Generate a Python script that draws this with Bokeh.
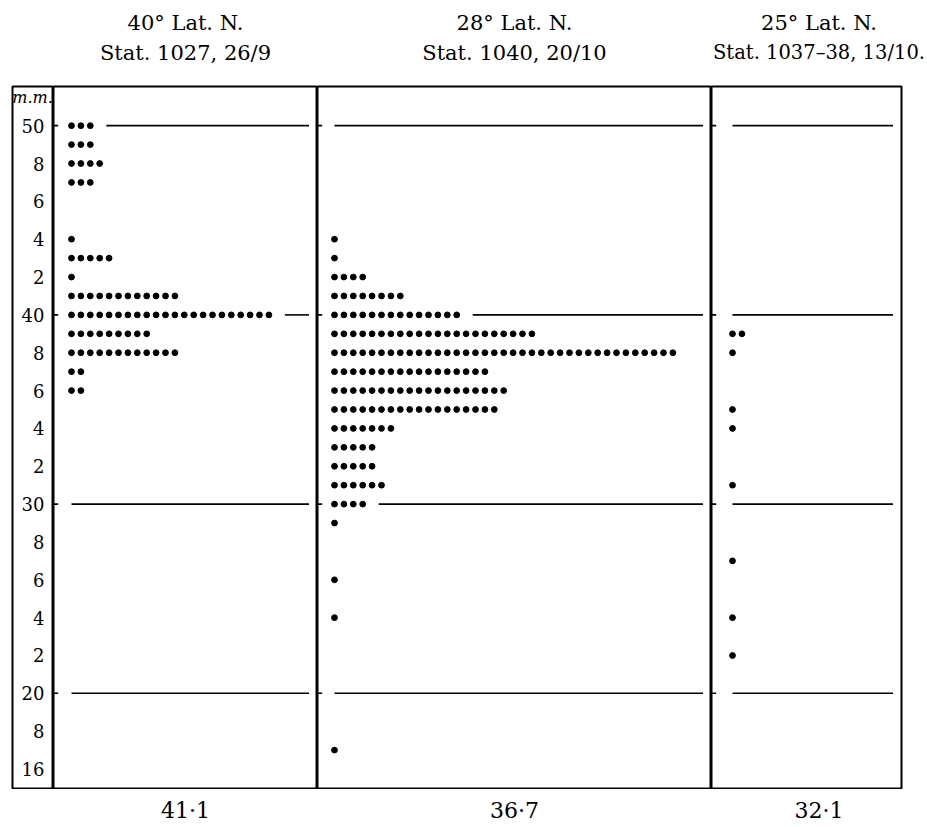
from bokeh.plotting import figure
from bokeh.layouts import row, column
from bokeh.models import Range1d, ColumnDataSource
from bokeh.core.properties import value
from bokeh.embed import file_html
from bokeh.resources import INLINE

# ---------------- data ----------------
sizes_40N = [50, 49, 48, 47, 44, 43, 42, 41, 40, 39, 38, 37, 36]
counts_40N = [3, 3, 4, 3, 1, 5, 1, 12, 22, 9, 12, 2, 2]

sizes_28N = [44, 43, 42, 41, 40, 39, 38, 37, 36, 35, 34, 33, 32, 31, 30, 29, 26, 24, 17]
counts_28N = [1, 1, 4, 8, 14, 22, 37, 17, 19, 18, 7, 5, 5, 6, 4, 1, 1, 1, 1]

sizes_25N = [39, 38, 35, 34, 31, 27, 24, 22]
counts_25N = [2, 1, 1, 1, 1, 1, 1, 1]

lat_titles = ["40° Lat. N.", "28° Lat. N.", "25° Lat. N."]
stat_titles = ["Stat. 1027, 26/9", "Stat. 1040, 20/10", "Stat. 1037–38, 13/10."]
mean_labels = ["41·1", "36·7", "32·1"]

tick_values = [16, 18, 20, 22, 24, 26, 28, 30, 32, 34, 36, 38, 40, 42, 44, 46, 48, 50]
tick_labels = ["16", "8", "20", "2", "4", "6", "8", "30", "2", "4", "6", "8", "40", "2", "4", "6", "8", "50"]
unit_label = "m.m."
ruled_values = [50, 40, 30, 20]

# ---------------- layout constants ----------------
FONT = "DejaVu Serif"
Y_RANGE = Range1d(14.97, 52.07)
FRAME_H = 702
DOT_PX = 9.4
LEFT_PAD = 12
LAB_W = 41
PANEL_W = [264, 394, 190]
FIRST_DOT = [18, 17, 21]
RIGHT_PAD = 25
HEADER_H = 85
FOOTER_H = 33
TOTAL_W = LEFT_PAD + LAB_W + sum(PANEL_W) + RIGHT_PAD


def base_fig(frame_w, x_range, left=0, right=0):
    p = figure(frame_width=frame_w, frame_height=FRAME_H, x_range=x_range, y_range=Y_RANGE,
               output_backend="svg", toolbar_location=None,
               min_border_left=left, min_border_right=right,
               min_border_top=1, min_border_bottom=1)
    p.axis.visible = False
    p.grid.visible = False
    p.outline_line_color = "black"
    p.outline_line_width = 2
    p.background_fill_color = "white"
    p.border_fill_color = "white"
    return p


def panel(sizes, counts, frame_w, first_dot_px, right_border=0):
    x0 = -first_dot_px / DOT_PX
    x1 = x0 + frame_w / DOT_PX
    p = base_fig(frame_w, Range1d(x0, x1), 0, right_border)

    xs, ys = [], []
    for s, c in zip(sizes, counts):
        for k in range(c):
            xs.append(k)
            ys.append(s)
    p.scatter(x="x", y="y", source=ColumnDataSource(dict(x=xs, y=ys)),
              marker="circle", size=5.8, color="black")

    lookup = dict(zip(sizes, counts))
    gx0, gx1, gy, tx0, tx1 = [], [], [], [], []
    for v in ruled_values:
        c = lookup.get(v, 0)
        gx0.append(c + 0.7 if c else 0.0)
        gx1.append(x1 - 0.9)
        gy.append(v)
        tx0.append(x0)
        tx1.append(x0 + 0.5)
    p.segment(x0=gx0, x1=gx1, y0=gy, y1=gy, line_color="black", line_width=1.6)
    p.segment(x0=tx0, x1=tx1, y0=gy, y1=gy, line_color="black", line_width=1.6)
    return p


# label column
lab = base_fig(LAB_W, Range1d(0, LAB_W), left=LEFT_PAD, right=0)
lab.text(x=[32] * len(tick_values), y=tick_values, text=tick_labels,
         text_align="right", text_baseline="middle", text_font=value(FONT),
         text_font_size="18px", text_color="black")
lab.text(x=[20], y=[Y_RANGE.end], text=[unit_label], text_align="center",
         text_baseline="top", y_offset=1, text_font=value(FONT),
         text_font_style="italic", text_font_size="16px", text_color="black")

p1 = panel(sizes_40N, counts_40N, PANEL_W[0], FIRST_DOT[0])
p2 = panel(sizes_28N, counts_28N, PANEL_W[1], FIRST_DOT[1])
p3 = panel(sizes_25N, counts_25N, PANEL_W[2], FIRST_DOT[2], right_border=RIGHT_PAD)

# centres of the panel columns (page pixels); the last column includes its right margin
lefts = []
acc = LEFT_PAD + LAB_W
for w in PANEL_W:
    lefts.append(acc)
    acc += w
widths = PANEL_W[:-1] + [PANEL_W[-1] + RIGHT_PAD]
centres = [l + w / 2 for l, w in zip(lefts, widths)]


def strip(h):
    s = figure(width=TOTAL_W, height=h, x_range=Range1d(0, TOTAL_W), y_range=Range1d(0, h),
               output_backend="svg", toolbar_location=None, min_border=0)
    s.axis.visible = False
    s.grid.visible = False
    s.outline_line_color = None
    s.background_fill_color = "white"
    s.border_fill_color = "white"
    return s


header = strip(HEADER_H)
header.text(x=centres, y=[HEADER_H - 22] * 3, text=lat_titles, text_align="center",
            text_baseline="middle", text_font=value(FONT), text_font_size="21px",
            text_color="black")
header.text(x=centres, y=[HEADER_H - 52] * 3, text=stat_titles, text_align="center",
            text_baseline="middle", text_font=value(FONT),
            text_font_size=["21px", "21px", "19.5px"], text_color="black")

footer = strip(FOOTER_H)
footer.text(x=centres, y=[FOOTER_H - 21] * 3, text=mean_labels, text_align="center",
            text_baseline="middle", text_font=value(FONT), text_font_size="22px",
            text_color="black")

layout = column(header, row(lab, p1, p2, p3, spacing=0), footer, spacing=0)

with open("out.html", "w") as f:
    f.write(file_html(layout, INLINE))
